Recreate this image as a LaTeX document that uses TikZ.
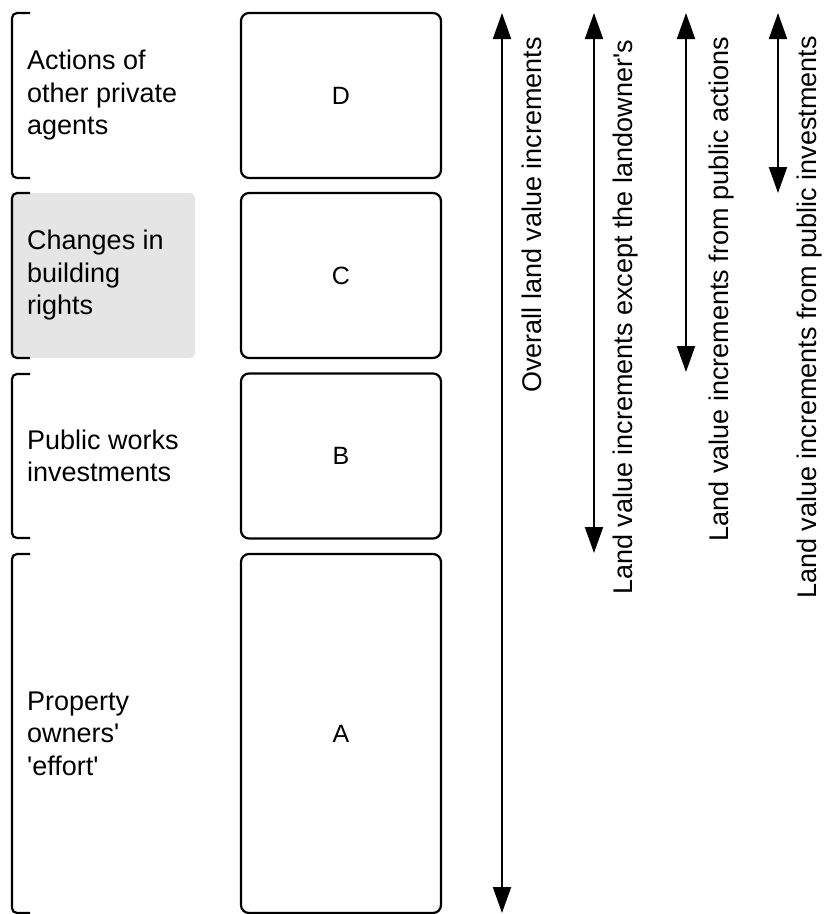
\documentclass[tikz,border=0pt]{standalone}
\usepackage{fontspec}
\setmainfont{Liberation Sans}
\usetikzlibrary{arrows.meta}

\tikzset{
  blockbox/.style={draw, line width=2.2pt, rounded corners=8pt, minimum width=200pt, inner sep=0pt, font=\fontsize{25}{30}\selectfont},
  sidetext/.style={anchor=west, inner sep=0pt, align=left, font=\fontsize{27}{32.5}\selectfont},
  bracketline/.style={line width=2.2pt, rounded corners=5pt},
  twoway/.style={line width=2pt, {Triangle[width=18pt,length=26pt]}-{Triangle[width=18pt,length=26pt]}},
  arrowlabel/.style={rotate=90, anchor=north east, inner sep=0pt, font=\fontsize{27}{32}\selectfont}
}

\begin{document}
\begin{tikzpicture}[x=1pt,y=-1pt]
\useasboundingbox (0,0) rectangle (823,914);

% Gray highlight behind the building rights text
\fill[black!10, rounded corners=5pt] (10,193) rectangle (195,358);

% Brackets on the left
\draw[bracketline] (30,13) -| (12,178) -- (30,178);
\draw[bracketline] (30,193) -| (12,358) -- (30,358);
\draw[bracketline] (30,374) -| (12,538) -- (30,538);
\draw[bracketline] (30,554) -| (12,913) -- (30,913);

% Text Nodes
\node[sidetext] (tD) at (27,95.5) {Actions of\\other private\\agents};
\node[sidetext] (tC) at (27,275.5) {Changes in\\building\\rights};
\node[sidetext] (tB) at (27,456) {Public works\\investments};
\node[sidetext] (tA) at (27,733.5) {Property\\owners\textquotesingle\\\textquotesingle effort\textquotesingle};

% Boxes
\node[blockbox, minimum height=165pt] (D) at (341,95.5) {D};
\node[blockbox, minimum height=165pt] (C) at (341,275.5) {C};
\node[blockbox, minimum height=165pt] (B) at (341,456) {B};
\node[blockbox, minimum height=359pt] (A) at (341,733.5) {A};

% Arrows
\coordinate (o1) at (502,13);  \coordinate (o2) at (502,913);
\coordinate (e1) at (594,13);  \coordinate (e2) at (594,553);
\coordinate (p1) at (686,13);  \coordinate (p2) at (686,372);
\coordinate (i1) at (778,13);  \coordinate (i2) at (778,193);
\draw[twoway] (o1) -- (o2);
\draw[twoway] (e1) -- (e2);
\draw[twoway] (p1) -- (p2);
\draw[twoway] (i1) -- (i2);

% Arrow labels
\node[arrowlabel] (lo) at (522,37) {Overall land value increments};
\node[arrowlabel] (le) at (613,40) {Land value increments except the landowner\textquotesingle s};
\node[arrowlabel] (lp) at (709,37) {Land value increments from public actions};
\node[arrowlabel] (li) at (797,36) {Land value increments from public investments};

\end{tikzpicture}
\end{document}
